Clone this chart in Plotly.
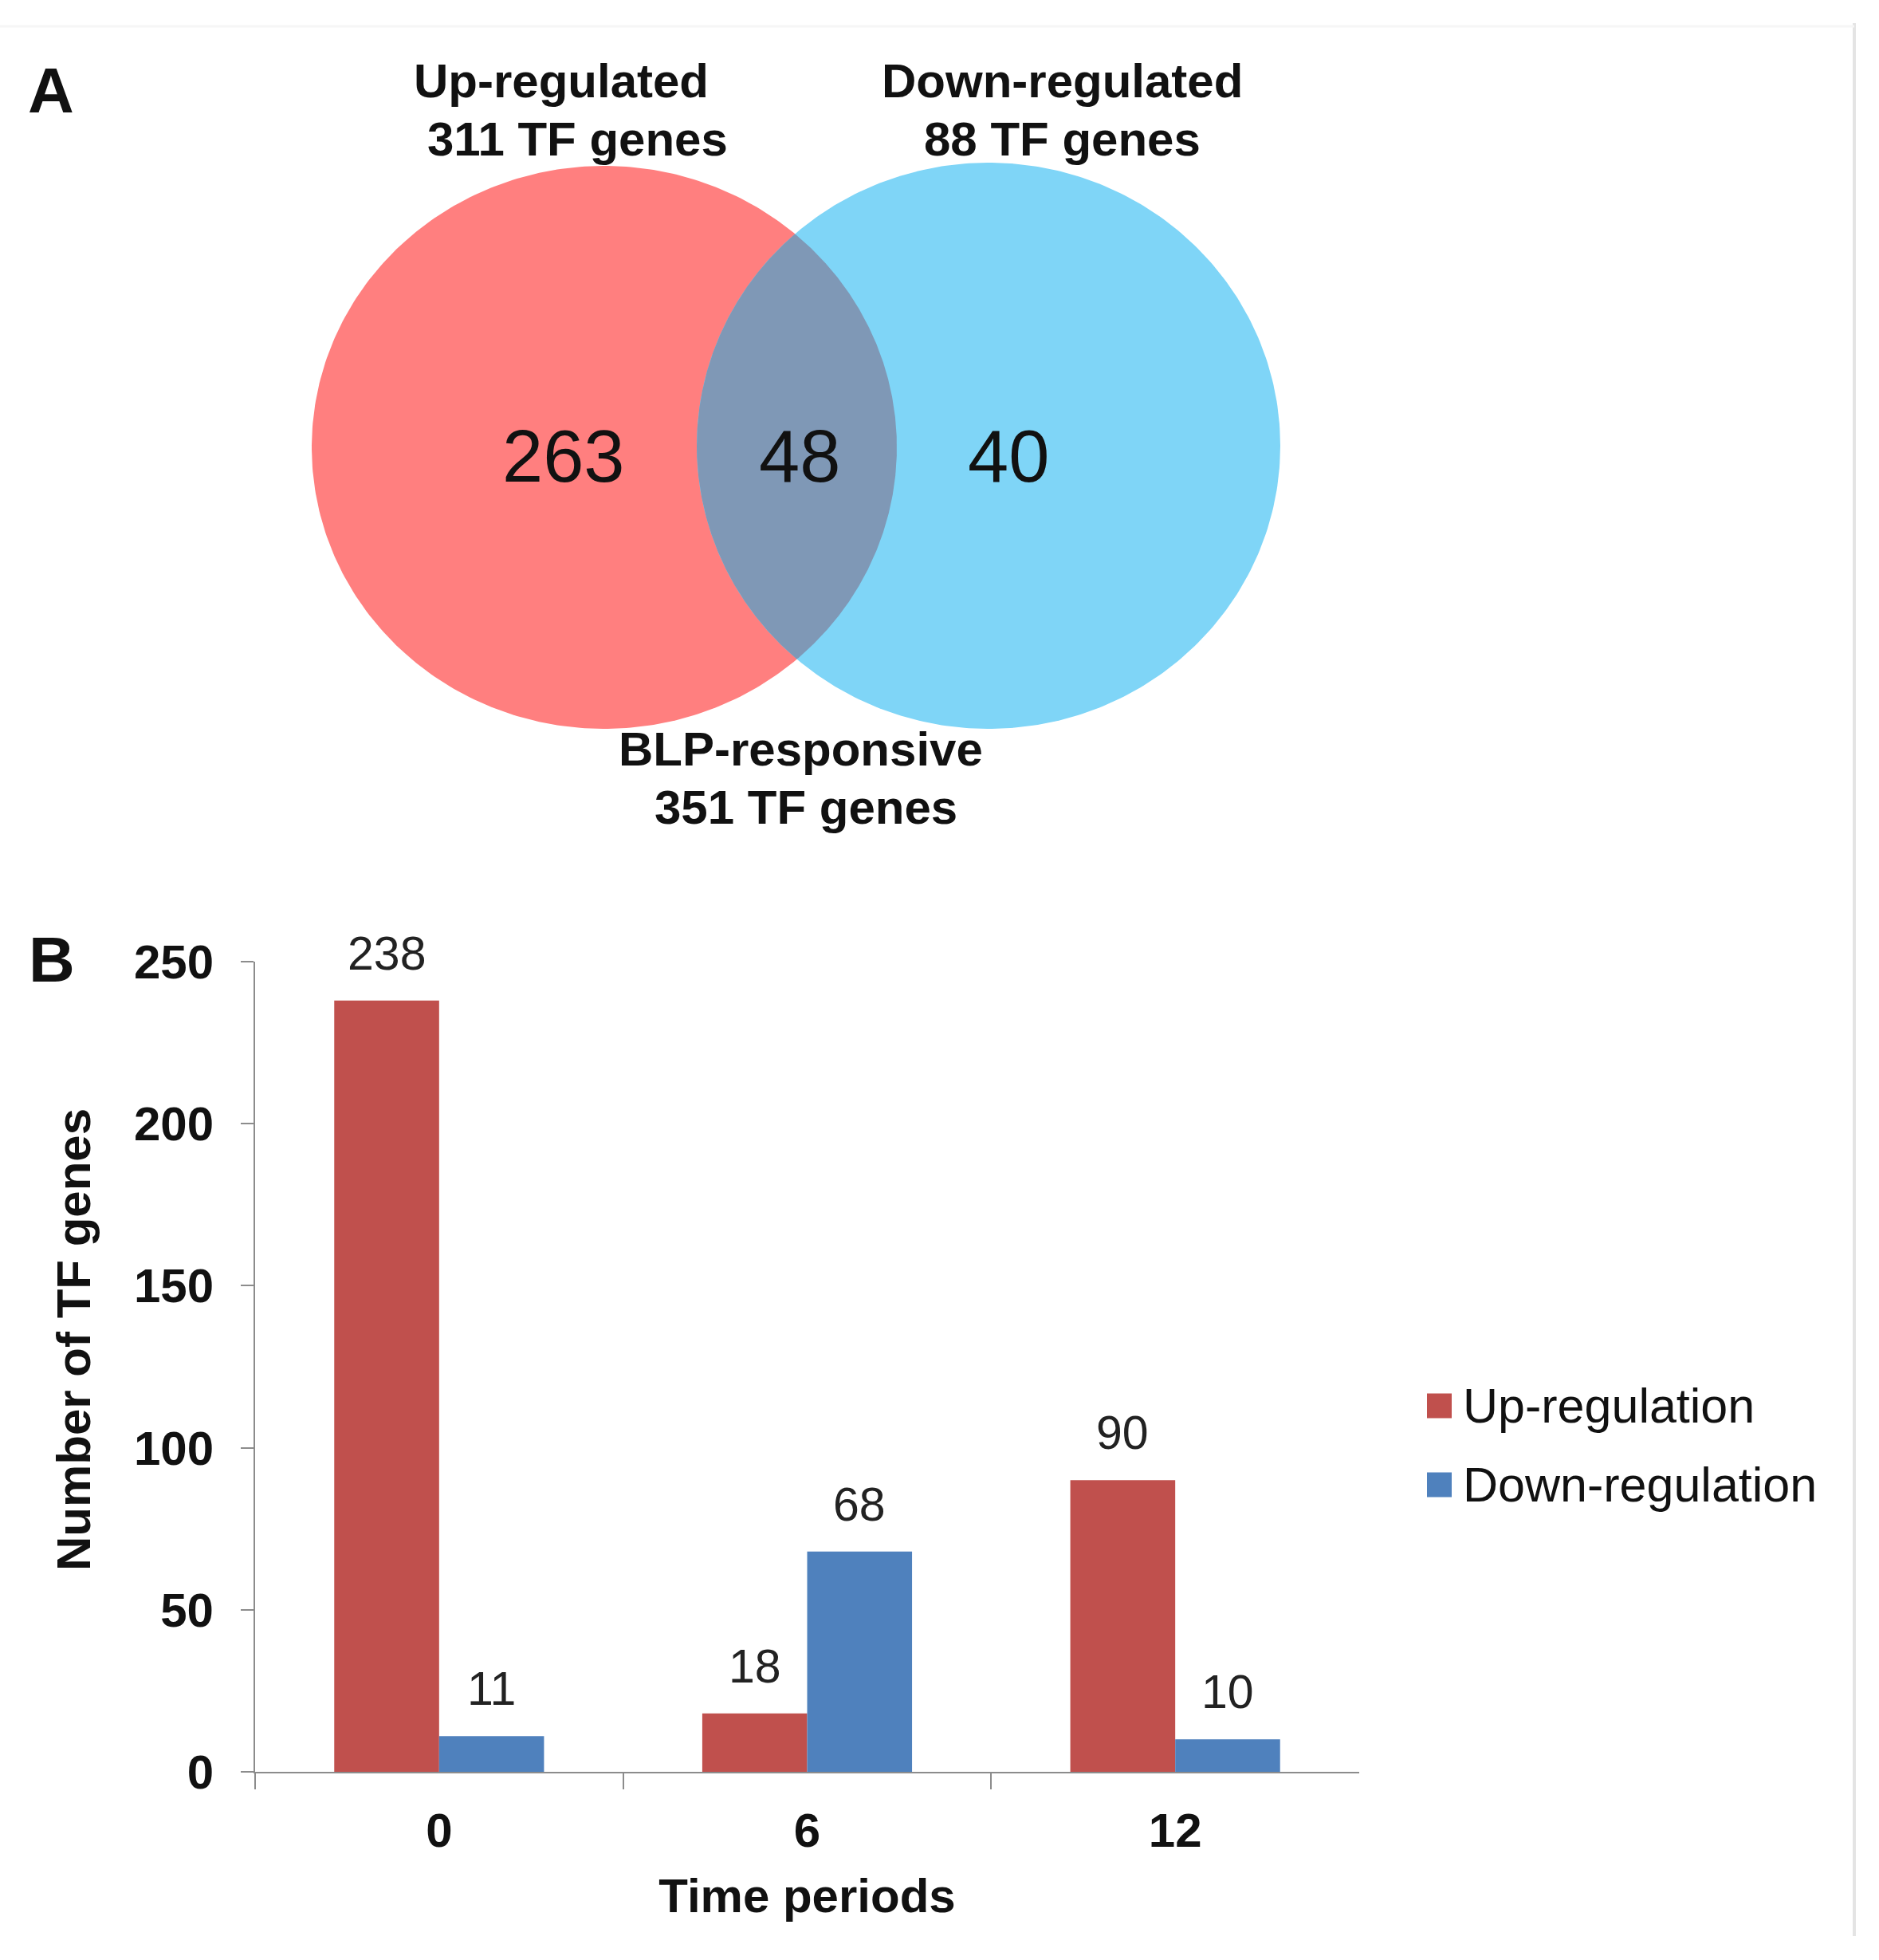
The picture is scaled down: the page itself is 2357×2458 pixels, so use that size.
import numpy as np
import plotly.graph_objects as go

# ---------------- data ----------------
venn_counts = [263, 48, 40]            # up only, both, down only
venn_set_titles = ["Up-regulated", "311 TF genes", "Down-regulated", "88 TF genes"]
venn_bottom_title = ["BLP-responsive", "351 TF genes"]

time_periods = ["0", "6", "12"]
up_regulation = [238, 18, 90]
down_regulation = [11, 68, 10]
series_names = ["Up-regulation", "Down-regulation"]
y_ticks = [0, 50, 100, 150, 200, 250]
x_title = "Time periods"
y_title = "Number of TF genes"

# ---------------- style ----------------
W, H = 2357, 2458
FONT = "Liberation Sans, Arial, sans-serif"
RED_V, BLUE_V, LENS_V = "#FF7F7F", "#7FD5F7", "#7F98B6"
RED_B, BLUE_B = "#C0504D", "#4F81BD"
AXC = "#8c8c8c"


def ellipse(cx, cy, rx, ry, n=400):
    t = np.linspace(0, 2 * np.pi, n)
    return cx + rx * np.cos(t), cy + ry * np.sin(t)


def inside(x, y, cx, cy, rx, ry):
    return ((x - cx) / rx) ** 2 + ((y - cy) / ry) ** 2 <= 1.0


red_e = (758, 561, 367, 353)
blue_e = (1240, 559, 366, 355)

fig = go.Figure()

# Venn circles (in a page-sized pixel coordinate overlay x2/y2)
rx_, ry_ = ellipse(*red_e)
bx_, by_ = ellipse(*blue_e)
fig.add_trace(go.Scatter(x=rx_, y=ry_, fill="toself", fillcolor=RED_V, mode="lines",
                         line=dict(width=0, color=RED_V), xaxis="x2", yaxis="y2",
                         showlegend=False, hoverinfo="skip"))
fig.add_trace(go.Scatter(x=bx_, y=by_, fill="toself", fillcolor=BLUE_V, mode="lines",
                         line=dict(width=0, color=BLUE_V), xaxis="x2", yaxis="y2",
                         showlegend=False, hoverinfo="skip"))
# lens
rd, bd = ellipse(*red_e, n=2000), ellipse(*blue_e, n=2000)
m1 = inside(rd[0], rd[1], *blue_e)
m2 = inside(bd[0], bd[1], *red_e)
lx = np.concatenate([rd[0][m1], bd[0][m2]])
ly = np.concatenate([rd[1][m1], bd[1][m2]])
ang = np.arctan2(ly - ly.mean(), lx - lx.mean())
o = np.argsort(ang)
lx, ly = np.append(lx[o], lx[o][0]), np.append(ly[o], ly[o][0])
fig.add_trace(go.Scatter(x=lx, y=ly, fill="toself", fillcolor=LENS_V, mode="lines",
                         line=dict(width=0, color=LENS_V), xaxis="x2", yaxis="y2",
                         showlegend=False, hoverinfo="skip"))

# Bars
fig.add_trace(go.Bar(x=time_periods, y=up_regulation, name=series_names[0],
                     marker=dict(color=RED_B, line=dict(width=0)), showlegend=False))
fig.add_trace(go.Bar(x=time_periods, y=down_regulation, name=series_names[1],
                     marker=dict(color=BLUE_B, line=dict(width=0)), showlegend=False))

BARGAP = 0.43
half = (1 - BARGAP) / 4

ann = []
# Venn numbers
venn_pos = [(707, 572), (1003, 572), (1265, 572)]
for v, (px, py) in zip(venn_counts, venn_pos):
    ann.append(dict(x=px, y=py, xref="x2", yref="y2", text=str(v), showarrow=False,
                    font=dict(family=FONT, size=92, color="#111111"),
                    xanchor="center", yanchor="middle"))
title_pos = [(704, 101), (724, 174), (1332, 101), (1332, 174)]
for t, (px, py) in zip(venn_set_titles, title_pos):
    ann.append(dict(x=px, y=py, xref="x2", yref="y2", text="<b>%s</b>" % t, showarrow=False,
                    font=dict(family=FONT, size=60, color="#111111"),
                    xanchor="center", yanchor="middle"))
for t, (px, py) in zip(venn_bottom_title, [(1004, 939), (1011, 1012)]):
    ann.append(dict(x=px, y=py, xref="x2", yref="y2", text="<b>%s</b>" % t, showarrow=False,
                    font=dict(family=FONT, size=60, color="#111111"),
                    xanchor="center", yanchor="middle"))
# panel letters
for t, (px, py) in zip(["A", "B"], [(64, 113), (65, 1203)]):
    ann.append(dict(x=px, y=py, xref="x2", yref="y2", text="<b>%s</b>" % t, showarrow=False,
                    font=dict(family=FONT, size=80, color="#111111"),
                    xanchor="center", yanchor="middle"))

# y axis title (placed to match the reference offset)
ann.append(dict(x=92, y=1680, xref="x2", yref="y2", text="<b>%s</b>" % y_title,
                showarrow=False, textangle=-90,
                font=dict(family=FONT, size=60, color="#111111"),
                xanchor="center", yanchor="middle"))

# bar value labels
for i, (u, d) in enumerate(zip(up_regulation, down_regulation)):
    for val, off in ((u, -half), (d, half)):
        ann.append(dict(x=i + off, y=val, xref="x", yref="y", text=str(val), showarrow=False,
                        font=dict(family=FONT, size=59, color="#222222"),
                        xanchor="center", yanchor="bottom", yshift=24))

# manual legend (large square swatches)
shapes = []
leg_rows = [(series_names[0], RED_B, 1763), (series_names[1], BLUE_B, 1862)]
for name, col, py in leg_rows:
    shapes.append(dict(type="rect", xref="x2", yref="y2", x0=1790, x1=1821,
                       y0=py - 15.5, y1=py + 15.5, fillcolor=col, line=dict(width=0)))
    ann.append(dict(x=1833, y=py, xref="x2", yref="y2", text=name, showarrow=False,
                    font=dict(family=FONT, size=61, color="#111111"),
                    xanchor="left", yanchor="middle"))

# faint page frame lines
shapes.append(dict(type="line", xref="x2", yref="y2", x0=2326, x1=2326, y0=29, y1=2428,
                   line=dict(color="#e4e4e4", width=4)))
shapes.append(dict(type="line", xref="x2", yref="y2", x0=0, x1=2326, y0=33, y1=33,
                   line=dict(color="#f6f6f6", width=3)))

fig.update_layout(
    width=W, height=H, margin=dict(l=0, r=0, t=0, b=0),
    paper_bgcolor="white", plot_bgcolor="rgba(0,0,0,0)",
    barmode="group", bargap=BARGAP, bargroupgap=0,
    showlegend=False,
    font=dict(family=FONT, color="#111111"),
    annotations=ann, shapes=shapes,
    xaxis=dict(domain=[320 / W, 1705 / W], type="category", range=[-0.5, 2.5],
               showline=True, linecolor=AXC, linewidth=2, ticks="outside",
               tickson="boundaries", ticklen=20, tickcolor=AXC, tickwidth=2,
               showgrid=False, zeroline=False,
               tickfont=dict(family=FONT, size=60, color="#111111", weight="bold"),
               ticklabelstandoff=20,
               title=dict(text=x_title, standoff=28,
                          font=dict(family=FONT, size=60, color="#111111", weight="bold")),
               automargin=False),
    yaxis=dict(domain=[1 - 2222 / H, 1 - 1206 / H], range=[0, 250], tickvals=y_ticks,
               showline=True, linecolor=AXC, linewidth=2, ticks="outside",
               ticklen=16, tickcolor=AXC, tickwidth=2, showgrid=False, zeroline=False,
               tickfont=dict(family=FONT, size=60, color="#111111", weight="bold"),
               ticklabelstandoff=22,
               automargin=False),
    xaxis2=dict(domain=[0, 1], range=[0, W], visible=False, fixedrange=True),
    yaxis2=dict(domain=[0, 1], range=[H, 0], visible=False, fixedrange=True,
                anchor="x2"),
)

fig.write_html("out.html")
